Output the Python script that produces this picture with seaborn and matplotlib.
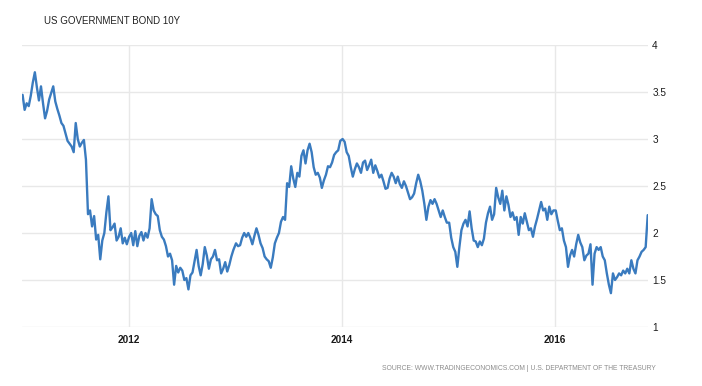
import matplotlib
matplotlib.use("Agg")
import matplotlib.pyplot as plt
import seaborn as sns
import pandas as pd

# Weekly 10Y yields
y2011 = [3.47, 3.31, 3.38, 3.35, 3.46, 3.60, 3.71, 3.55, 3.41, 3.56, 3.38, 3.22, 3.30,
         3.42, 3.49, 3.56, 3.40, 3.32, 3.25, 3.17, 3.14, 3.06, 2.98, 2.95, 2.92, 2.86,
         3.17, 3.00, 2.92, 2.96, 2.99, 2.78, 2.20, 2.24, 2.07, 2.18, 1.93, 1.98, 1.72,
         1.92, 2.00, 2.22, 2.39, 2.03, 2.06, 2.10, 1.92, 1.96, 2.05, 1.89, 1.95, 1.88]
y2012 = [1.96, 2.00, 1.87, 2.02, 1.86, 1.97, 2.01, 1.92, 2.00, 1.95, 2.05, 2.36, 2.24,
         2.20, 2.18, 2.03, 1.96, 1.93, 1.86, 1.75, 1.78, 1.71, 1.45, 1.65, 1.58, 1.63,
         1.60, 1.50, 1.52, 1.40, 1.55, 1.58, 1.70, 1.82, 1.65, 1.55, 1.67, 1.85, 1.76,
         1.62, 1.72, 1.75, 1.82, 1.71, 1.72, 1.57, 1.62, 1.69, 1.59, 1.66, 1.75, 1.82]
y2013 = [1.89, 1.86, 1.87, 1.95, 2.00, 1.96, 2.00, 1.95, 1.88, 1.97, 2.05, 1.98, 1.89,
         1.84, 1.75, 1.72, 1.70, 1.63, 1.74, 1.89, 1.95, 2.00, 2.12, 2.17, 2.14, 2.53,
         2.49, 2.71, 2.58, 2.49, 2.64, 2.60, 2.82, 2.88, 2.74, 2.88, 2.95, 2.86, 2.70,
         2.62, 2.64, 2.59, 2.48, 2.56, 2.62, 2.71, 2.70, 2.75, 2.83, 2.86, 2.88, 2.98]
y2014 = [3.00, 2.97, 2.86, 2.82, 2.70, 2.60, 2.68, 2.74, 2.70, 2.64, 2.75, 2.77, 2.67,
         2.72, 2.78, 2.64, 2.72, 2.66, 2.59, 2.62, 2.55, 2.47, 2.48, 2.58, 2.64, 2.60,
         2.53, 2.60, 2.52, 2.48, 2.55, 2.50, 2.43, 2.36, 2.38, 2.42, 2.53, 2.62, 2.55,
         2.45, 2.31, 2.14, 2.28, 2.35, 2.31, 2.36, 2.31, 2.24, 2.17, 2.24, 2.17, 2.11]
y2015 = [2.11, 1.95, 1.85, 1.80, 1.64, 1.85, 2.03, 2.10, 2.14, 2.07, 2.23, 2.05, 1.92,
         1.91, 1.85, 1.91, 1.87, 1.94, 2.11, 2.21, 2.28, 2.14, 2.20, 2.48, 2.38, 2.31,
         2.45, 2.24, 2.39, 2.30, 2.17, 2.22, 2.14, 2.17, 1.98, 2.17, 2.10, 2.21, 2.12,
         2.03, 2.05, 1.96, 2.07, 2.15, 2.24, 2.33, 2.24, 2.26, 2.14, 2.28, 2.20, 2.24]
y2016 = [2.24, 2.13, 2.03, 2.05, 1.92, 1.85, 1.64, 1.76, 1.82, 1.75, 1.88, 1.98, 1.90,
         1.85, 1.71, 1.76, 1.78, 1.88, 1.45, 1.78, 1.85, 1.82, 1.85, 1.75, 1.71, 1.57,
         1.45, 1.36, 1.57, 1.50, 1.53, 1.57, 1.55, 1.60, 1.57, 1.62, 1.57, 1.71, 1.62,
         1.57, 1.71, 1.75, 1.80, 1.82, 1.85, 2.19]
years = [2011, 2012, 2013, 2014, 2015, 2016]
series = [y2011, y2012, y2013, y2014, y2015, y2016]

y_ticks = [1, 1.5, 2, 2.5, 3, 3.5, 4]
y_tick_labels = ["1", "1.5", "2", "2.5", "3", "3.5", "4"]
x_ticks = ["2012-01-01", "2014-01-01", "2016-01-01"]
x_tick_labels = ["2012", "2014", "2016"]
title = "US GOVERNMENT BOND 10Y"
source = "SOURCE: WWW.TRADINGECONOMICS.COM | U.S. DEPARTMENT OF THE TREASURY"

frames = []
for yr, vals in zip(years, series):
    d = pd.date_range(f"{yr}-01-03", periods=len(vals), freq="7D")
    frames.append(pd.DataFrame({"date": d, "yield": vals}))
df = pd.concat(frames, ignore_index=True)

sns.set_theme(style="white")
plt.rcParams['font.family'] = ['Liberation Sans', 'DejaVu Sans']

W, H = 702, 386
fig = plt.figure(figsize=(W / 100, H / 100), dpi=100)
fig.patch.set_facecolor("white")
ax = fig.add_axes([22 / W, 1 - 327 / H, (648 - 22) / W, (327 - 45) / H])

sns.lineplot(data=df, x="date", y="yield", ax=ax, color="#3a7bbf", linewidth=1.7)

ax.set_xlim(pd.Timestamp("2011-01-01"), pd.Timestamp("2016-11-14"))
ax.set_ylim(1, 4)
ax.set_yticks(y_ticks)
ax.set_yticklabels(y_tick_labels)
ax.yaxis.tick_right()
ax.set_xticks(pd.to_datetime(x_ticks))
ax.set_xticklabels(x_tick_labels, fontweight="bold")
ax.set_xlabel("")
ax.set_ylabel("")
ax.grid(True, color="#e8e8e8", linewidth=1)
ax.set_axisbelow(True)
for s in ax.spines.values():
    s.set_visible(False)
ax.tick_params(axis="y", length=0, pad=3, labelsize=7.2, colors="#1a1a1a")
ax.tick_params(axis="x", length=3, width=1, color="#e8e8e8", pad=3,
               labelsize=7.2, labelcolor="#1a1a1a")

fig.text(44 / W, 1 - 21 / H, title, fontsize=7, color="#222222",
         ha="left", va="center")
fig.text(656 / W, 1 - 369 / H, source, fontsize=4.9, color="#8c8c8c",
         ha="right", va="center")

fig.savefig("out.png", dpi=100, facecolor="white")
